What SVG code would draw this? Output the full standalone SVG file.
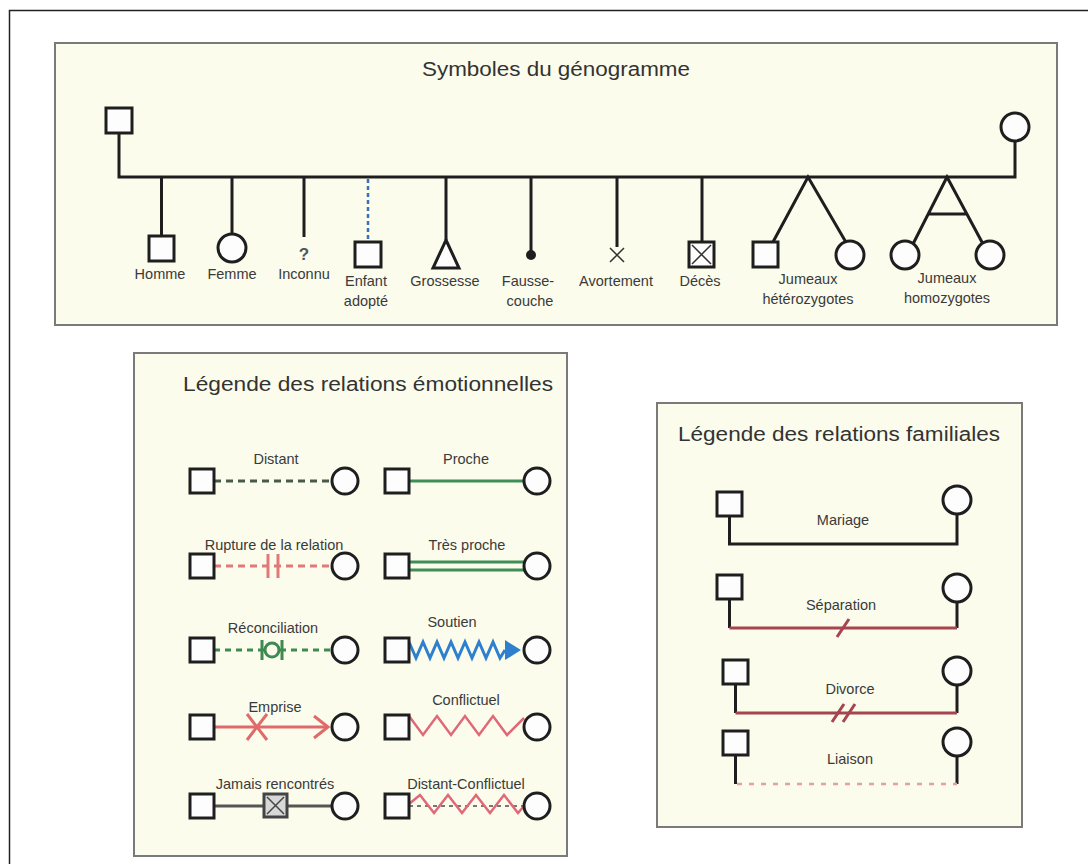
<svg xmlns="http://www.w3.org/2000/svg" width="1088" height="864" viewBox="0 0 1088 864">
<style>
.panel{fill:#fbfcec;stroke:#7a7a7a;stroke-width:2}
.sq,.ci{fill:#fdfdfd;stroke:#1e1e1e;stroke-width:3}
.ln{stroke:#1e1e1e;stroke-width:3;fill:none}
.thin{stroke:#333;stroke-width:1.5;fill:none}
.t{font-family:"Liberation Sans",Arial,Helvetica,sans-serif;font-size:14.5px;fill:#3a3a3a;text-anchor:middle}
.title{font-size:20px;fill:#333}
</style>
<rect width="1088" height="864" fill="#ffffff"/>
<path d="M9.5 864 V10.5 H1088" fill="none" stroke="#222" stroke-width="1.5"/>

<!-- Panel 1: Symboles du génogramme -->
<g id="panel-symboles">
<rect class="panel" x="55" y="43" width="1002" height="282"/>
<text class="t title" x="556" y="76" textLength="268" lengthAdjust="spacingAndGlyphs">Symboles du génogramme</text>
</g>
<g id="connectors-genogramme">
<path class="ln" d="M119 133 V177 H1015 V141"/>
<path class="ln" d="M161.5 177 V236"/>
<path class="ln" d="M232 177 V234"/>
<path class="ln" d="M304 177 V237"/>
<path d="M368 179 V242" stroke="#3b6fb8" stroke-width="2.5" stroke-dasharray="4 3" fill="none"/>
<path class="ln" d="M446 177 V240"/>
<path class="ln" d="M531 177 V252"/>
<path class="ln" d="M617 177 V247"/>
<path class="ln" d="M702 177 V242"/>
<path class="ln" d="M773 242 L808 177 L847 244"/>
<path class="ln" d="M913 244 L947 177 L983 244 M928 214 H967"/>
</g>
<g id="node-pere"><rect class="sq" x="106" y="108" width="26" height="25"/></g>
<g id="node-mere"><circle class="ci" cx="1015" cy="127" r="14"/></g>
<g id="node-homme"><rect class="sq" x="149" y="236" width="25" height="25"/><text class="t" x="160" y="279">Homme</text></g>
<g id="node-femme"><circle class="ci" cx="232" cy="248" r="14"/><text class="t" x="232" y="279">Femme</text></g>
<g id="node-inconnu"><text class="t" x="304" y="260" style="font-size:17px;font-weight:bold;fill:#555">?</text><text class="t" x="304" y="279">Inconnu</text></g>
<g id="node-adopte"><rect class="sq" x="355" y="242" width="26" height="25"/><text class="t" x="366" y="286">Enfant</text><text class="t" x="366" y="306">adopté</text></g>
<g id="node-grossesse"><path class="sq" d="M446 240 L459 268 H433 Z" style="stroke-linejoin:miter"/><text class="t" x="445" y="286">Grossesse</text></g>
<g id="node-fausse-couche"><circle cx="531" cy="255" r="5" fill="#1e1e1e"/><text class="t" x="528" y="286">Fausse-</text><text class="t" x="530" y="306">couche</text></g>
<g id="node-avortement"><path class="thin" d="M610 248 L624 262 M624 248 L610 262"/><text class="t" x="616" y="286">Avortement</text></g>
<g id="node-deces"><rect class="sq" x="689" y="242" width="25" height="25"/><path class="thin" d="M692 245 L711 264 M711 245 L692 264"/><text class="t" x="700" y="286">Décès</text></g>
<g id="node-jumeaux-hetero"><rect class="sq" x="753" y="242" width="25" height="25"/><circle class="ci" cx="850" cy="255" r="14"/><text class="t" x="808" y="284">Jumeaux</text><text class="t" x="808" y="304">hétérozygotes</text></g>
<g id="node-jumeaux-homo"><circle class="ci" cx="905" cy="255" r="14"/><circle class="ci" cx="990" cy="255" r="14"/><text class="t" x="947" y="283">Jumeaux</text><text class="t" x="947" y="303">homozygotes</text></g>

<!-- Panel 2: relations émotionnelles -->
<g id="panel-emotionnelles">
<rect class="panel" x="134" y="353" width="433" height="503"/>
<text class="t title" x="368" y="391" textLength="370" lengthAdjust="spacingAndGlyphs">Légende des relations émotionnelles</text>
</g>
<g id="connectors-emotionnelles">
<path d="M214 481 H332" stroke="#4a5a48" stroke-width="3" stroke-dasharray="7 5"/>
<path d="M409 481 H524" stroke="#3e8e55" stroke-width="3"/>
<path d="M214 566 H332" stroke="#e07a7a" stroke-width="3" stroke-dasharray="7 5"/>
<path d="M268 554 V578 M278 554 V578" stroke="#e07a7a" stroke-width="3"/>
<path d="M409 562 H524 M409 570 H524" stroke="#3e8e55" stroke-width="3"/>
<path d="M214 650 H332" stroke="#3e8a50" stroke-width="3" stroke-dasharray="6 5"/>
<circle cx="272" cy="650" r="7" fill="#fbfcec" stroke="#3e8a50" stroke-width="3"/>
<path d="M262 640 V660 M282 640 V660" stroke="#3e8a50" stroke-width="3"/>
<polyline points="409,642 416,658 423,642 430,658 437,642 444,658 451,642 458,658 465,642 472,658 479,642 486,658 493,642 500,658 505,650" fill="none" stroke="#2f7fcf" stroke-width="3" stroke-linejoin="miter"/>
<path d="M505 640 L521 650 L505 660 Z" fill="#2f7fcf"/>
<path d="M214 727 H328" stroke="#e06a6a" stroke-width="3"/>
<path d="M247 714 L267 740 M267 714 L247 740" stroke="#e06a6a" stroke-width="3"/>
<path d="M314 716 L328 727 L314 738" fill="none" stroke="#e06a6a" stroke-width="3"/>
<polyline points="409,716 423,735 437,716 451,735 465,716 479,735 493,716 507,735 524,718" fill="none" stroke="#e06878" stroke-width="2.5"/>
<path d="M214 806 H332" stroke="#555" stroke-width="3"/>
<rect x="264" y="794" width="23" height="23" fill="#d8d8d8" stroke="#444" stroke-width="3"/>
<path d="M267 797 L284 814 M284 797 L267 814" stroke="#444" stroke-width="1.5"/>
<path d="M409 806 H524" stroke="#777" stroke-width="2" stroke-dasharray="4 4"/>
<polyline points="409,804 420,795 434,813 448,795 462,813 476,795 490,813 504,795 518,813 524,806" fill="none" stroke="#e06878" stroke-width="2.5"/>
</g>
<g id="rel-distant"><rect class="sq" x="190" y="469" width="24" height="24"/><circle class="ci" cx="345" cy="481" r="13"/><text class="t" x="276" y="464">Distant</text></g>
<g id="rel-proche"><rect class="sq" x="385" y="469" width="24" height="24"/><circle class="ci" cx="537" cy="481" r="13"/><text class="t" x="466" y="464">Proche</text></g>
<g id="rel-rupture"><rect class="sq" x="190" y="554" width="24" height="24"/><circle class="ci" cx="345" cy="566" r="13"/><text class="t" x="274" y="550">Rupture de la relation</text></g>
<g id="rel-tres-proche"><rect class="sq" x="385" y="554" width="24" height="24"/><circle class="ci" cx="537" cy="566" r="13"/><text class="t" x="467" y="550">Très proche</text></g>
<g id="rel-reconciliation"><rect class="sq" x="190" y="638" width="24" height="24"/><circle class="ci" cx="345" cy="650" r="13"/><text class="t" x="273" y="633">Réconciliation</text></g>
<g id="rel-soutien"><rect class="sq" x="385" y="638" width="24" height="24"/><circle class="ci" cx="537" cy="650" r="13"/><text class="t" x="452" y="627">Soutien</text></g>
<g id="rel-emprise"><rect class="sq" x="190" y="715" width="24" height="24"/><circle class="ci" cx="345" cy="727" r="13"/><text class="t" x="275" y="712">Emprise</text></g>
<g id="rel-conflictuel"><rect class="sq" x="385" y="715" width="24" height="24"/><circle class="ci" cx="537" cy="727" r="13"/><text class="t" x="466" y="705">Conflictuel</text></g>
<g id="rel-jamais"><rect class="sq" x="190" y="794" width="24" height="24"/><circle class="ci" cx="345" cy="806" r="13"/><text class="t" x="275" y="789">Jamais rencontrés</text></g>
<g id="rel-distant-conflictuel"><rect class="sq" x="385" y="794" width="24" height="24"/><circle class="ci" cx="537" cy="806" r="13"/><text class="t" x="466" y="789">Distant-Conflictuel</text></g>

<!-- Panel 3: relations familiales -->
<g id="panel-familiales">
<rect class="panel" x="657" y="403" width="365" height="424"/>
<text class="t title" x="839" y="441" textLength="322" lengthAdjust="spacingAndGlyphs">Légende des relations familiales</text>
</g>
<g id="connectors-familiales">
<path class="ln" d="M729.5 516 V544 H957 V514"/>
<path class="ln" d="M729.5 599 V628 M957 602 V628"/>
<path d="M729.5 628 H957" stroke="#a54550" stroke-width="3"/>
<path d="M837 637 L849 619" stroke="#a54550" stroke-width="3"/>
<path class="ln" d="M735.5 684 V713 M957 685 V713"/>
<path d="M735.5 713 H957" stroke="#a54550" stroke-width="3"/>
<path d="M832 722 L844 704 M843 722 L855 704" stroke="#a54550" stroke-width="3"/>
<path class="ln" d="M735.5 755 V784 M957 756 V784"/>
<path d="M737 784 H957" stroke="#e0a0a8" stroke-width="2.5" stroke-dasharray="5 7"/>
</g>
<g id="fam-mariage"><rect class="sq" x="717" y="492" width="25" height="24"/><circle class="ci" cx="957" cy="500" r="14"/><text class="t" x="843" y="525">Mariage</text></g>
<g id="fam-separation"><rect class="sq" x="717" y="575" width="25" height="24"/><circle class="ci" cx="957" cy="588" r="14"/><text class="t" x="841" y="610">Séparation</text></g>
<g id="fam-divorce"><rect class="sq" x="723" y="660" width="25" height="24"/><circle class="ci" cx="957" cy="671" r="14"/><text class="t" x="850" y="694">Divorce</text></g>
<g id="fam-liaison"><rect class="sq" x="723" y="731" width="25" height="24"/><circle class="ci" cx="957" cy="742" r="14"/><text class="t" x="850" y="764">Liaison</text></g>
</svg>
